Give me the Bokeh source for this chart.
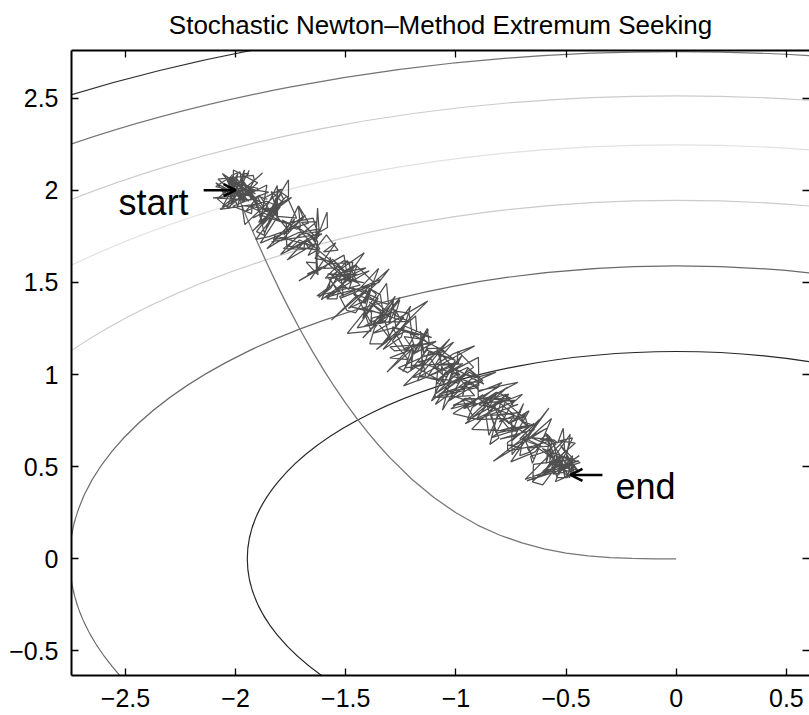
from bokeh.plotting import figure
from bokeh.models import LinearAxis, FixedTicker, Range1d, ColumnDataSource, Arrow, OpenHead
from bokeh.core.properties import value
from bokeh.embed import file_html
from bokeh.resources import INLINE

FONT = "Liberation Sans"

title_text = "Stochastic Newton\u2013Method Extremum Seeking"

x_ticks = [-2.5, -2, -1.5, -1, -0.5, 0, 0.5]
x_tick_labels = ["\u22122.5", "\u22122", "\u22121.5", "\u22121", "\u22120.5", "0", "0.5"]
y_ticks = [-0.5, 0, 0.5, 1, 1.5, 2, 2.5]
y_tick_labels = ["\u22120.5", "0", "0.5", "1", "1.5", "2", "2.5"]

# Level sets of the quadratic cost, all centred on the optimum at (0, 0)
contour_semi_x = [1.947, 2.753, 3.372, 3.894, 4.354, 4.769, 5.151]
contour_semi_y = [1.125, 1.590, 1.946, 2.246, 2.512, 2.753, 2.975]
contour_gray = ["#262626", "#6a6a6a", "#cbcbcb", "#e2e2e2", "#cbcbcb", "#747474", "#2e2e2e"]

# Gradient-based extremum seeking trajectory (smooth curve)
gradient_x = [-2.0, -1.95, -1.9, -1.85, -1.8, -1.75, -1.7, -1.65, -1.6, -1.55, -1.5,
              -1.45, -1.4, -1.35, -1.3, -1.2, -1.1, -1.0, -0.9, -0.8, -0.7, -0.6,
              -0.5, -0.4, -0.3, -0.2, -0.1, 0.0]
gradient_y = [2.0, 1.853, 1.715, 1.583, 1.458, 1.340, 1.228, 1.123, 1.024, 0.931, 0.844,
              0.762, 0.686, 0.615, 0.549, 0.432, 0.333, 0.250, 0.182, 0.128, 0.086, 0.054,
              0.031, 0.016, 0.007, 0.002, 0.0003, 0.0]

# Stochastic Newton extremum seeking trajectory (noisy walk), start to end
newton_path = [
    (-2.000, 2.000),
    # wandering round the initial estimate
    (-2.06, 1.99), (-2.06, 2.01), (-1.91, 1.96), (-1.98, 2.01), (-2.02, 2.01),
    (-1.94, 2.09), (-1.96, 2.09), (-2.02, 1.96), (-2.02, 2.06), (-2.01, 2.02),
    (-2.04, 2.02), (-2.01, 1.98), (-2.03, 2.07), (-2.02, 1.93), (-1.96, 2.11),
    (-1.99, 1.91), (-2.04, 2.06), (-1.94, 1.99), (-2.06, 2.09), (-1.96, 1.94),
    (-1.98, 2.10), (-2.02, 2.08), (-1.91, 1.98), (-1.96, 2.01), (-2.06, 1.91),
    (-1.99, 2.06), (-2.04, 1.90), (-1.90, 2.04), (-2.01, 2.11), (-2.01, 1.99),
    (-1.99, 2.09), (-2.04, 1.98), (-2.09, 2.04), (-1.94, 1.94), (-1.98, 1.99),
    (-2.09, 2.02), (-2.04, 2.06), (-1.98, 1.96), (-2.08, 2.06), (-1.92, 2.08),
    # moving down the diagonal
    (-1.915, 2.055), (-1.963, 1.953), (-2.025, 2.075), (-1.928, 1.978), (-2.103, 1.958), (-1.928, 1.948), (-1.978, 2.073), (-1.918, 1.968), (-2.023, 1.998), (-1.906, 2.001),
    (-1.998, 1.973), (-1.938, 2.108), (-2.030, 1.900), (-2.083, 1.953), (-2.025, 2.015), (-1.961, 1.936), (-2.063, 1.978), (-1.981, 1.986), (-1.878, 2.093), (-1.973, 1.993),
    (-1.880, 1.930), (-2.071, 1.896), (-2.018, 1.933), (-1.858, 2.028), (-1.883, 1.858), (-1.941, 2.006), (-1.850, 1.990), (-2.013, 1.913), (-1.928, 1.873), (-1.926, 1.901),
    (-1.955, 1.885), (-1.893, 1.973), (-1.850, 1.900), (-1.971, 1.916), (-1.958, 1.813), (-1.791, 2.006), (-1.875, 1.955), (-1.856, 1.951), (-1.903, 1.968), (-1.863, 1.883),
    (-1.985, 2.035), (-1.901, 1.996), (-1.900, 2.010), (-1.983, 2.033), (-1.900, 1.920), (-1.908, 1.958), (-1.878, 1.823), (-1.760, 2.056), (-1.760, 1.960), (-1.791, 1.986),
    (-1.880, 1.810), (-1.784, 1.931), (-1.838, 1.993), (-1.821, 1.916), (-1.920, 1.850), (-1.746, 1.961), (-1.895, 1.825), (-1.811, 2.026), (-1.810, 1.860), (-1.818, 1.958),
    (-1.838, 1.873), (-1.833, 1.853), (-1.805, 2.005), (-1.783, 1.953), (-1.870, 1.770), (-1.891, 1.866), (-1.770, 1.820), (-1.936, 1.911), (-1.860, 1.940), (-1.798, 1.908),
    (-1.818, 1.943), (-1.871, 1.756), (-1.905, 1.775), (-1.841, 1.876), (-1.875, 1.895), (-1.846, 1.889), (-1.815, 1.865), (-1.811, 1.906), (-1.923, 1.778), (-1.768, 1.968),
    (-1.723, 1.848), (-1.808, 1.858), (-1.888, 1.713), (-1.758, 1.778), (-1.825, 1.875), (-1.798, 1.908), (-1.908, 1.733), (-1.848, 1.748), (-1.668, 1.823), (-1.713, 1.913),
    (-1.693, 1.848), (-1.771, 1.776), (-1.830, 1.730), (-1.771, 1.746), (-1.858, 1.683), (-1.733, 1.843), (-1.740, 1.820), (-1.781, 1.756), (-1.715, 1.915), (-1.706, 1.801),
    (-1.723, 1.788), (-1.788, 1.838), (-1.748, 1.813), (-1.683, 1.864), (-1.795, 1.725), (-1.718, 1.768), (-1.620, 1.790), (-1.636, 1.731), (-1.628, 1.903), (-1.621, 1.776),
    (-1.710, 1.760), (-1.796, 1.651), (-1.608, 1.763), (-1.836, 1.721), (-1.828, 1.713), (-1.823, 1.753), (-1.645, 1.695), (-1.585, 1.881), (-1.583, 1.798), (-1.768, 1.668),
    (-1.710, 1.730), (-1.638, 1.688), (-1.725, 1.805), (-1.646, 1.741), (-1.625, 1.675), (-1.768, 1.698), (-1.770, 1.820), (-1.648, 1.848), (-1.623, 1.748), (-1.648, 1.758),
    (-1.640, 1.750), (-1.701, 1.826), (-1.630, 1.830), (-1.783, 1.683), (-1.690, 1.680), (-1.686, 1.721), (-1.670, 1.690), (-1.618, 1.668), (-1.640, 1.630), (-1.563, 1.613),
    (-1.680, 1.730), (-1.766, 1.621), (-1.643, 1.708), (-1.671, 1.646), (-1.618, 1.683), (-1.666, 1.761), (-1.628, 1.723), (-1.631, 1.606), (-1.680, 1.610), (-1.626, 1.541),
    (-1.635, 1.685), (-1.588, 1.758), (-1.535, 1.675), (-1.601, 1.666), (-1.545, 1.715), (-1.661, 1.516), (-1.645, 1.545), (-1.563, 1.613), (-1.573, 1.638), (-1.543, 1.563),
    (-1.635, 1.655), (-1.633, 1.563), (-1.675, 1.545), (-1.608, 1.583), (-1.713, 1.508), (-1.508, 1.648), (-1.490, 1.510), (-1.623, 1.643), (-1.478, 1.543), (-1.468, 1.608),
    (-1.580, 1.600), (-1.601, 1.576), (-1.543, 1.578), (-1.478, 1.498), (-1.483, 1.608), (-1.508, 1.618), (-1.525, 1.605), (-1.593, 1.523), (-1.448, 1.543), (-1.583, 1.543),
    (-1.573, 1.548), (-1.483, 1.533), (-1.538, 1.453), (-1.416, 1.661), (-1.563, 1.538), (-1.486, 1.461), (-1.450, 1.590), (-1.481, 1.576), (-1.623, 1.418), (-1.568, 1.468),
    (-1.530, 1.550), (-1.408, 1.578), (-1.533, 1.508), (-1.566, 1.541), (-1.555, 1.545), (-1.611, 1.406), (-1.483, 1.518), (-1.561, 1.626), (-1.435, 1.485), (-1.631, 1.426),
    (-1.575, 1.475), (-1.571, 1.516), (-1.493, 1.618), (-1.448, 1.498), (-1.505, 1.525), (-1.418, 1.498), (-1.583, 1.528), (-1.511, 1.426), (-1.520, 1.510), (-1.393, 1.563),
    (-1.593, 1.418), (-1.366, 1.491), (-1.455, 1.595), (-1.571, 1.516), (-1.538, 1.453), (-1.586, 1.411), (-1.540, 1.410), (-1.531, 1.476), (-1.405, 1.455), (-1.488, 1.358),
    (-1.405, 1.405), (-1.351, 1.576), (-1.450, 1.450), (-1.521, 1.416), (-1.350, 1.500), (-1.303, 1.573), (-1.565, 1.295), (-1.461, 1.416), (-1.395, 1.455), (-1.338, 1.518),
    (-1.528, 1.423), (-1.495, 1.348), (-1.455, 1.335), (-1.383, 1.473), (-1.395, 1.425), (-1.423, 1.303), (-1.315, 1.495), (-1.306, 1.381), (-1.465, 1.435), (-1.418, 1.388),
    (-1.393, 1.468), (-1.343, 1.433), (-1.330, 1.330), (-1.471, 1.366), (-1.383, 1.338), (-1.386, 1.281), (-1.470, 1.470), (-1.353, 1.413), (-1.448, 1.253), (-1.326, 1.281),
    (-1.253, 1.418), (-1.308, 1.338), (-1.400, 1.430), (-1.413, 1.383), (-1.388, 1.463), (-1.361, 1.436), (-1.403, 1.358), (-1.493, 1.223), (-1.385, 1.235), (-1.423, 1.363),
    (-1.248, 1.293), (-1.276, 1.351), (-1.305, 1.275), (-1.283, 1.403), (-1.328, 1.313), (-1.366, 1.261), (-1.308, 1.323), (-1.393, 1.393), (-1.345, 1.345), (-1.321, 1.306),
    (-1.255, 1.405), (-1.276, 1.321), (-1.213, 1.288), (-1.373, 1.283), (-1.275, 1.425), (-1.323, 1.323), (-1.423, 1.258), (-1.323, 1.293), (-1.298, 1.193), (-1.356, 1.281),
    (-1.423, 1.198), (-1.313, 1.343), (-1.370, 1.250), (-1.391, 1.166), (-1.333, 1.168), (-1.236, 1.311), (-1.273, 1.258), (-1.286, 1.391), (-1.385, 1.265), (-1.381, 1.306),
    (-1.268, 1.343), (-1.213, 1.333), (-1.200, 1.230), (-1.283, 1.253), (-1.375, 1.225), (-1.128, 1.398), (-1.225, 1.285), (-1.331, 1.136), (-1.248, 1.203), (-1.206, 1.371),
    (-1.325, 1.175), (-1.233, 1.233), (-1.168, 1.213), (-1.283, 1.253), (-1.313, 1.178), (-1.361, 1.136), (-1.183, 1.318), (-1.178, 1.238), (-1.228, 1.123), (-1.288, 1.258),
    (-1.110, 1.200), (-1.233, 1.263), (-1.288, 1.183), (-1.216, 1.081), (-1.300, 1.090), (-1.198, 1.138), (-1.203, 1.068), (-1.198, 1.108), (-1.090, 1.180), (-1.233, 1.143),
    (-1.225, 1.135), (-1.278, 1.128), (-1.300, 1.150), (-1.121, 1.166), (-1.145, 1.115), (-1.161, 1.236), (-1.153, 1.048), (-1.231, 1.036), (-1.195, 1.165), (-1.313, 1.013),
    (-1.148, 1.193), (-1.121, 1.166), (-1.130, 1.250), (-1.241, 1.016), (-1.125, 1.245), (-1.178, 1.118), (-1.208, 1.223), (-1.051, 1.126), (-1.143, 1.098), (-1.163, 1.193),
    (-1.235, 1.205), (-1.193, 1.133), (-1.205, 1.025), (-1.126, 1.141), (-1.055, 1.145), (-1.261, 1.036), (-1.220, 1.010), (-1.011, 1.176), (-1.080, 1.080), (-1.126, 0.991),
    (-1.060, 1.030), (-1.088, 1.148), (-1.008, 1.083), (-1.133, 1.133), (-1.155, 1.095), (-1.137, 0.993), (-1.195, 0.985), (-1.143, 1.023), (-1.028, 1.193), (-1.238, 0.938),
    (-1.135, 0.985), (-1.071, 0.966), (-1.200, 1.050), (-0.986, 1.061), (-1.175, 0.965), (-1.123, 1.123), (-1.003, 1.078), (-1.056, 0.951), (-1.073, 1.118), (-0.981, 0.996),
    (-1.173, 1.068), (-1.113, 1.083), (-1.080, 1.020), (-0.996, 1.065), (-1.045, 0.985), (-1.102, 1.041), (-1.070, 1.070), (-1.007, 1.115), (-0.915, 1.155), (-1.168, 0.988),
    (-1.030, 0.970), (-0.986, 0.951), (-0.993, 1.008), (-1.091, 0.896), (-0.920, 1.040), (-0.991, 1.126), (-0.995, 1.055), (-0.974, 1.101), (-1.048, 1.003), (-0.968, 1.058),
    (-1.080, 1.050), (-1.096, 0.871), (-0.938, 1.013), (-0.911, 0.986), (-0.958, 1.003), (-1.111, 0.856), (-1.045, 1.015), (-1.086, 0.951), (-1.053, 0.948), (-1.073, 0.983),
    (-0.898, 1.093), (-0.896, 0.941), (-1.075, 0.895), (-0.923, 0.953), (-1.025, 0.995), (-0.948, 1.038), (-0.873, 0.948), (-1.036, 1.051), (-0.915, 0.885), (-1.101, 0.876),
    (-0.900, 0.930), (-0.958, 0.958), (-1.093, 0.838), (-1.041, 0.936), (-1.013, 1.028), (-1.061, 0.806), (-0.945, 1.035), (-0.878, 0.968), (-1.035, 0.855), (-0.931, 0.976),
    (-0.818, 1.013), (-0.956, 0.941), (-0.970, 0.880), (-0.958, 0.958), (-0.900, 0.960), (-0.898, 0.868), (-0.960, 0.870), (-1.023, 0.813), (-0.910, 0.850), (-1.013, 0.833),
    (-0.935, 0.875), (-0.921, 0.846), (-1.023, 0.888), (-0.928, 0.958), (-0.893, 0.908), (-0.791, 0.956), (-0.883, 0.868), (-0.836, 0.881), (-0.948, 0.753), (-0.926, 0.821),
    (-0.815, 0.905), (-0.908, 0.758), (-1.013, 0.788), (-0.876, 0.891), (-0.965, 0.815), (-0.773, 0.893), (-0.770, 0.860), (-0.903, 0.873), (-0.795, 0.795), (-0.761, 0.896),
    (-0.850, 0.820), (-0.813, 0.903), (-0.750, 0.870), (-0.971, 0.866), (-0.920, 0.770), (-0.786, 0.861), (-0.858, 0.873), (-0.873, 0.813), (-0.865, 0.865), (-0.718, 0.958),
    (-0.898, 0.913), (-0.801, 0.936), (-0.943, 0.838), (-0.726, 0.861), (-0.958, 0.733), (-0.766, 0.931), (-0.895, 0.835), (-0.841, 0.826), (-0.698, 0.893), (-0.748, 0.838),
    (-0.818, 0.683), (-0.838, 0.778), (-0.705, 0.795), (-0.808, 0.778), (-0.825, 0.825), (-0.723, 0.693), (-0.928, 0.703), (-0.773, 0.893), (-0.740, 0.830), (-0.718, 0.838),
    (-0.905, 0.755), (-0.691, 0.766), (-0.793, 0.868), (-0.863, 0.773), (-0.850, 0.670), (-0.808, 0.778), (-0.745, 0.685), (-0.693, 0.843), (-0.720, 0.780), (-0.676, 0.721),
    (-0.798, 0.843), (-0.846, 0.621), (-0.805, 0.655), (-0.858, 0.828), (-0.705, 0.765), (-0.678, 0.798), (-0.703, 0.748), (-0.651, 0.726), (-0.805, 0.685), (-0.838, 0.658),
    (-0.673, 0.718), (-0.688, 0.778), (-0.705, 0.765), (-0.763, 0.733), (-0.733, 0.778), (-0.803, 0.743), (-0.790, 0.760), (-0.668, 0.668), (-0.733, 0.718), (-0.801, 0.696),
    (-0.665, 0.725), (-0.746, 0.641), (-0.668, 0.803), (-0.747, 0.746), (-0.745, 0.565), (-0.578, 0.818), (-0.708, 0.603), (-0.768, 0.618), (-0.735, 0.615), (-0.588, 0.708),
    (-0.830, 0.530), (-0.643, 0.703), (-0.800, 0.650), (-0.716, 0.671), (-0.645, 0.735), (-0.766, 0.631), (-0.765, 0.585), (-0.618, 0.618), (-0.640, 0.580), (-0.751, 0.526),
    (-0.680, 0.650), (-0.608, 0.608), (-0.710, 0.650), (-0.621, 0.756), (-0.683, 0.638), (-0.566, 0.761), (-0.653, 0.518), (-0.661, 0.556), (-0.585, 0.585), (-0.546, 0.621),
    (-0.585, 0.675), (-0.618, 0.648), (-0.563, 0.638), (-0.591, 0.516), (-0.575, 0.665), (-0.668, 0.578), (-0.710, 0.560), (-0.693, 0.663), (-0.648, 0.543), (-0.676, 0.601),
    (-0.568, 0.613), (-0.658, 0.658), (-0.555, 0.645), (-0.538, 0.628), (-0.513, 0.708), (-0.506, 0.581), (-0.603, 0.468), (-0.481, 0.676), (-0.503, 0.518), (-0.593, 0.683),
    (-0.550, 0.550), (-0.576, 0.561), (-0.570, 0.540), (-0.566, 0.581), (-0.550, 0.490), (-0.686, 0.431), (-0.515, 0.635), (-0.556, 0.631), (-0.535, 0.505), (-0.651, 0.426),
    (-0.648, 0.513), (-0.466, 0.541), (-0.525, 0.615), (-0.466, 0.511), (-0.575, 0.515), (-0.566, 0.641), (-0.645, 0.615), (-0.493, 0.493), (-0.678, 0.423), (-0.443, 0.533),
    (-0.605, 0.475), (-0.458, 0.628), (-0.530, 0.640), (-0.471, 0.656), (-0.528, 0.503), (-0.568, 0.498), (-0.548, 0.493), (-0.606, 0.401), (-0.653, 0.418), (-0.548, 0.538),
    (-0.528, 0.533), (-0.571, 0.516), (-0.505, 0.495), (-0.608, 0.598), (-0.436, 0.522), (-0.528, 0.488), (-0.460, 0.465), (-0.548, 0.418), (-0.515, 0.535), (-0.568, 0.528),
    # settling near the optimum estimate
    (-0.540, 0.440), (-0.495, 0.440), (-0.470, 0.560), (-0.530, 0.470), (-0.470, 0.530),
    (-0.485, 0.540), (-0.440, 0.470), (-0.495, 0.540), (-0.450, 0.480), (-0.515, 0.505),
    (-0.505, 0.470), (-0.560, 0.460), (-0.440, 0.560), (-0.495, 0.515), (-0.540, 0.460),
    (-0.530, 0.460), (-0.530, 0.560), (-0.560, 0.470), (-0.540, 0.560), (-0.485, 0.440),
    (-0.460, 0.515), (-0.505, 0.440), (-0.515, 0.495), (-0.505, 0.460), (-0.460, 0.460),
    (-0.495, 0.560), (-0.460, 0.460), (-0.515, 0.515), (-0.530, 0.560), (-0.470, 0.530),
    (-0.480, 0.455),
]
newton_x = [pt[0] for pt in newton_path]
newton_y = [pt[1] for pt in newton_path]

start_word = "start"
end_word = "end"

p = figure(
    width=809, height=715,
    x_range=Range1d(-2.745, 0.605), y_range=Range1d(-0.633, 2.758),
    output_backend="svg", toolbar_location=None,
    x_axis_location=None, y_axis_location=None,
    min_border_left=71, min_border_right=0, min_border_top=50, min_border_bottom=40,
    background_fill_color="white", border_fill_color="white",
)
p.outline_line_color = None
p.grid.visible = False

# Title, pinned to the top of its panel
p.title.text = title_text
p.title.align = "center"
p.title.vertical_align = "top"
p.title.text_font = FONT
p.title.text_font_size = "26px"
p.title.text_font_style = "normal"
p.title.text_color = "black"
p.title.standoff = 18


def style_axis(ax, ticks, labels, show_labels=True, show_line=True):
    ax.ticker = FixedTicker(ticks=ticks)
    ax.major_label_overrides = dict(zip(ticks, labels))
    ax.major_tick_in = 7
    ax.major_tick_out = 0
    ax.minor_tick_in = 0
    ax.minor_tick_out = 0
    ax.major_tick_line_color = "black"
    ax.major_tick_line_width = 1.3
    ax.axis_line_color = "black" if show_line else None
    ax.axis_line_width = 2
    ax.major_label_text_font = FONT
    if show_labels:
        ax.major_label_text_color = "black"
        ax.major_label_text_font_size = "25px"
        ax.major_label_standoff = 13
    else:
        ax.major_label_text_color = None
        ax.major_label_text_font_size = "1px"
        ax.major_label_standoff = 0


bottom = LinearAxis()
style_axis(bottom, x_ticks, x_tick_labels)
p.add_layout(bottom, "below")

left = LinearAxis()
style_axis(left, y_ticks, y_tick_labels)
p.add_layout(left, "left")

top = LinearAxis()
style_axis(top, x_ticks, x_tick_labels, show_labels=False)
p.add_layout(top, "above")

right = LinearAxis()
style_axis(right, y_ticks, y_tick_labels, show_labels=False, show_line=False)
p.add_layout(right, "right")

# Contour ellipses
contours = ColumnDataSource(dict(
    w=[2 * a for a in contour_semi_x],
    h=[2 * b for b in contour_semi_y],
    color=contour_gray,
    cx=[0.0] * len(contour_semi_x),
    cy=[0.0] * len(contour_semi_x),
))
p.ellipse(x="cx", y="cy", width="w", height="h", source=contours,
          fill_color=None, line_color="color", line_width=1.2)

# Gradient trajectory
p.line(gradient_x, gradient_y, line_color="#777777", line_width=1.3)

# Stochastic Newton trajectory
p.line(newton_x, newton_y, line_color="#4f4f4f", line_width=1.25)

# Start / end annotations: short arrows pointing at the first and last samples
ARROW_LEN = 0.145
x0, y0 = newton_x[0], newton_y[0]
x1, y1 = newton_x[-1], newton_y[-1]
p.add_layout(Arrow(x_start=x0 - ARROW_LEN, y_start=y0, x_end=x0, y_end=y0,
                   line_width=2.5, line_color="black",
                   end=OpenHead(size=12, line_width=2.5, line_color="black")))
p.add_layout(Arrow(x_start=x1 + ARROW_LEN, y_start=y1, x_end=x1, y_end=y1,
                   line_width=2.5, line_color="black",
                   end=OpenHead(size=12, line_width=2.5, line_color="black")))

text_style = dict(text_color="black", text_baseline="alphabetic", y_offset=12,
                  text_font=value(FONT), text_font_size="36px")
p.text(x=[x0], y=[y0], text=[start_word], text_align="right", x_offset=-47, **text_style)
p.text(x=[x1], y=[y1], text=[end_word], text_align="left", x_offset=45, **text_style)

open("out.html", "w").write(file_html(p, INLINE))
